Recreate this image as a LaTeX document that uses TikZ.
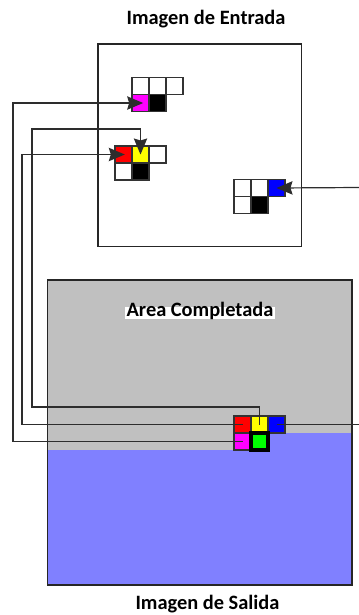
\documentclass[tikz,border=0pt]{standalone}
\usepackage{fontspec}
\setmainfont{Carlito}
\usetikzlibrary{arrows.meta,positioning}
\definecolor{pixgray}{RGB}{192,192,192}
\definecolor{pixblue}{RGB}{128,128,255}
\definecolor{pixgreen}{RGB}{0,255,0}
\definecolor{pixyellow}{RGB}{255,255,0}
\definecolor{pixmagenta}{RGB}{255,0,255}
\definecolor{linegray}{RGB}{45,45,45}

\begin{document}
\begin{tikzpicture}[x=0.75pt,y=-0.75pt,>={Stealth[length=12pt,width=10pt,inset=1.5pt]},
  cell/.style={draw=black!80,line width=0.9pt,minimum size=12.75pt,inner sep=0pt,outer sep=0pt,fill=white},
  frame/.style={draw=black!85,line width=1.2pt},
  flow/.style={draw=linegray,line width=0.9pt},
  title/.style={font=\bfseries\fontsize{15.3}{18}\selectfont,inner sep=0pt,anchor=base}]
 \useasboundingbox (0,0) rectangle (359,615);
 % input image
 \draw[frame] (98,44) rectangle (301.5,246.5);
 \node[cell] (a1) at (140.5,86) {};
 \node[cell,right=0pt of a1] (a2) {};
 \node[cell,right=0pt of a2] (a3) {};
 \node[cell,fill=pixmagenta,below=0pt of a1] (iM) {};
 \node[cell,fill=black,below=0pt of a2] (a5) {};
 \node[cell,fill=red] (iR) at (123.5,154.5) {};
 \node[cell,fill=pixyellow,right=0pt of iR] (iY) {};
 \node[cell,right=0pt of iY] (b3) {};
 \node[cell,below=0pt of iR] (b4) {};
 \node[cell,fill=black,below=0pt of iY] (b5) {};
 \node[cell] (c1) at (242.5,188) {};
 \node[cell,right=0pt of c1] (c2) {};
 \node[cell,fill=blue,right=0pt of c2] (iB) {};
 \node[cell,below=0pt of c1] (c4) {};
 \node[cell,fill=black,below=0pt of c2] (c5) {};
 \node[title] (tIn) at (206,24.3) {Imagen de Entrada};
 % output image
 \fill[pixgray] (47.5,280) rectangle (352,585);
 \fill[pixblue] (47.5,450)--(268,450)--(268,433)--(352,433)--(352,585)--(47.5,585)--cycle;
 \draw[frame] (47.5,280) rectangle (352,585);
 \node[title,fill=white,inner xsep=1.5pt,text height=0.72em,text depth=0.16em] (tArea) at (200,316.5) {Area Completada};
 \node[title] (tOut) at (207.5,609.5) {Imagen de Salida};
 \node[cell,fill=red] (oR) at (242.5,424.5) {};
 \node[cell,fill=pixyellow,right=0pt of oR] (oY) {};
 \node[cell,fill=blue,right=0pt of oY] (oB) {};
 \node[cell,fill=pixmagenta,below=0pt of oR] (oM) {};
 % connectors
 \coordinate (mTurn) at (13,0);
 \coordinate (rTurn) at (22,0);
 \coordinate (yTurn) at (32,407);
 \coordinate (yTop) at (0,129);
 \coordinate (bIn) at (359,187.5);
 \coordinate (bOut) at (359,424.5);
 \draw[flow,->] (oM.center) -- (oM.center -| mTurn) |- ([xshift=2pt]iM.center);
 \draw[flow,->] (oR.center) -- (oR.center -| rTurn) |- ([xshift=1pt]iR.center);
 \draw[flow,->] (oY.center) |- (yTurn) |- (iY.center |- yTop) -- (iY.center);
 \draw[flow,->] (bIn) -- (iB.center);
 \draw[flow] (oB.center) -- (bOut);
 \node[cell,fill=pixgreen,draw=black,line width=3.4pt,below=0pt of oY] (oG) {};
\end{tikzpicture}
\end{document}
